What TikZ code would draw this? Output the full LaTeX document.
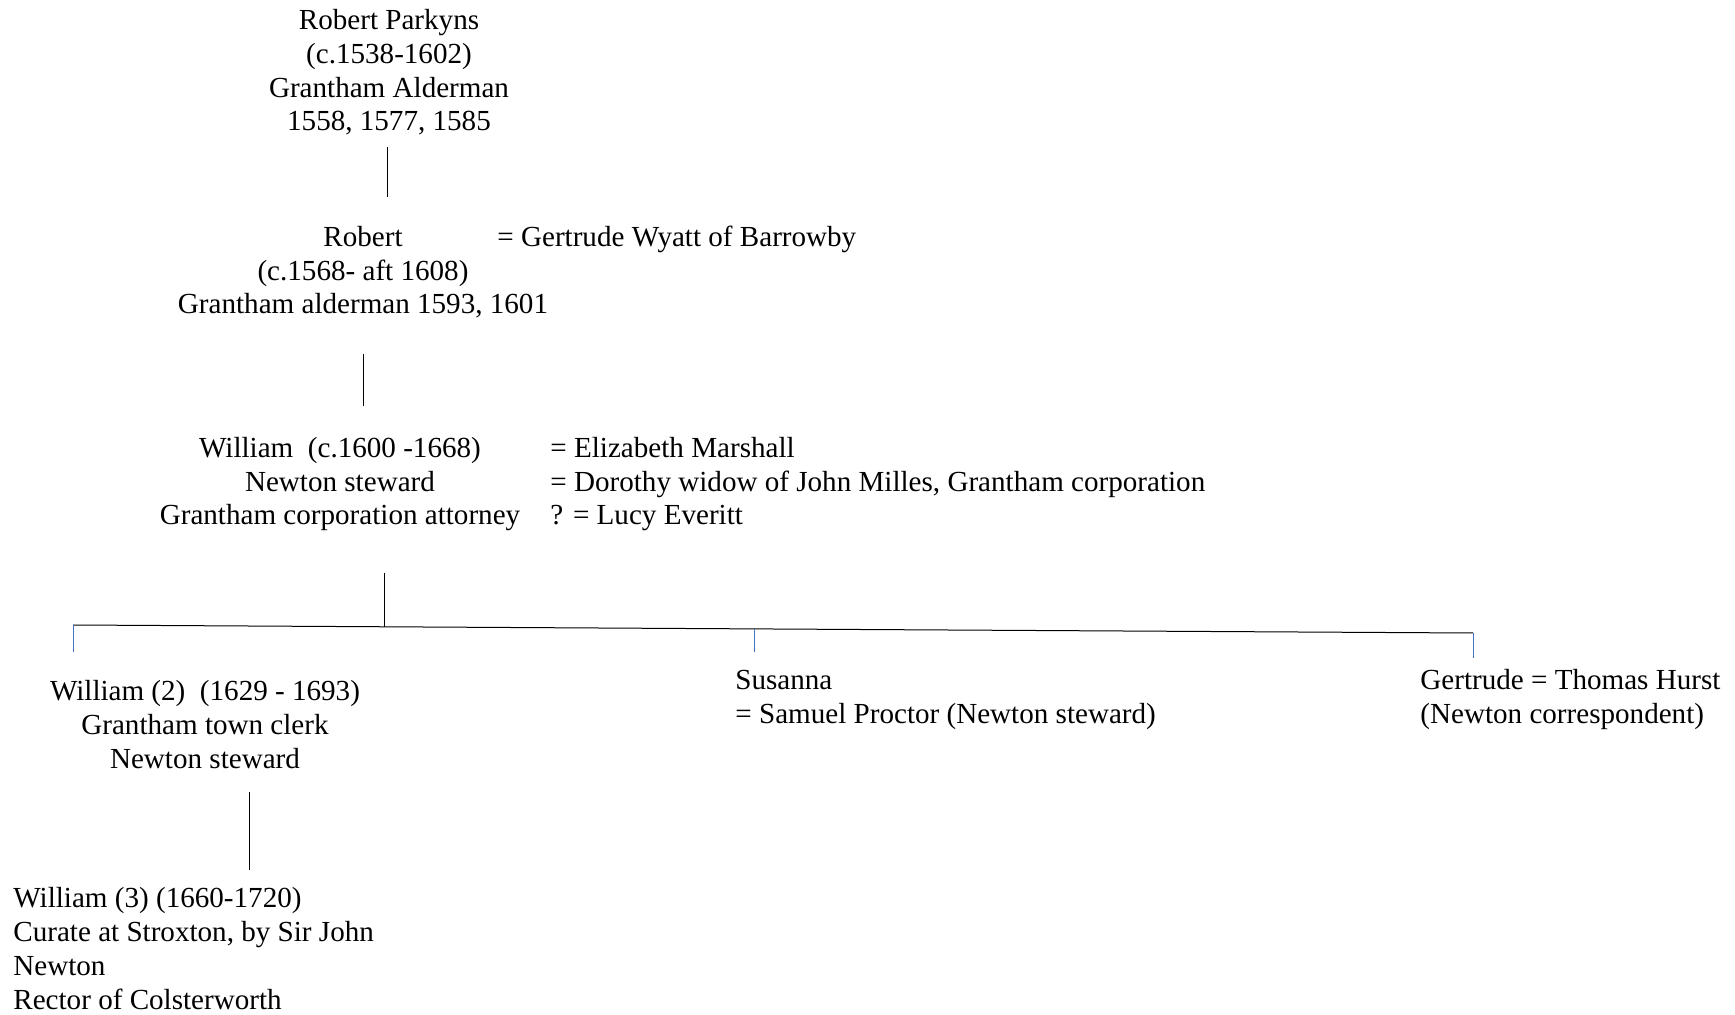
\documentclass[tikz,border=0pt]{standalone}
\usepackage{fontspec}
\setmainfont{Liberation Serif}
\usepackage{tikz}
\usetikzlibrary{positioning}

\definecolor{tickblue}{RGB}{68,114,196}
\tikzset{
  person/.style={inner sep=0pt, anchor=base, align=center, font=\fontsize{14.55pt}{16.9pt}\selectfont},
  spouse/.style={inner sep=0pt, anchor=base west, align=left, font=\fontsize{14.55pt}{16.9pt}\selectfont},
  line/.style={draw=black, line width=0.5pt},
  tick/.style={draw=tickblue, line width=0.5pt}
}

\begin{document}
\begin{tikzpicture}[x=0.5pt, y=-0.5pt]
\useasboundingbox (0,0) rectangle (1735,1015);
% people (placed by the baseline of their last line)
\node[person] (parkyns) at (389,131) {Robert Parkyns\\(c.1538-1602)\\Grantham Alderman\\1558, 1577, 1585};
\node[person] (robert) at (363,314) {Robert\\(c.1568- aft 1608)\\Grantham alderman 1593, 1601};
\node[spouse] (wyatt) at (497,247) {= Gertrude Wyatt of Barrowby};
\node[person] (william) at (340,525) {William\ \ (c.1600 -1668)\\Newton steward\\Grantham corporation attorney};
\node[spouse] (wives) at (550,525) {= Elizabeth Marshall\\= Dorothy widow of John Milles, Grantham corporation\\? = Lucy Everitt};
\node[person] (william2) at (205,768) {William (2)\ \ (1629 - 1693)\\Grantham town clerk\\Newton steward};
\node[spouse] (susanna) at (735,723) {Susanna\\= Samuel Proctor (Newton steward)};
\node[spouse] (gertrude) at (1420,723) {Gertrude = Thomas Hurst\\(Newton correspondent)};
\node[spouse] (william3) at (13,1009) {William (3) (1660-1720)\\Curate at Stroxton, by Sir John\\Newton\\Rector of Colsterworth};
% line ends
\coordinate (a1) at (387,147);  \coordinate (a2) at (387,197);
\coordinate (b1) at (363,354);  \coordinate (b2) at (363,406);
\coordinate (c1) at (384,573);  \coordinate (c2) at (384,627);
\coordinate (barL) at (73,625); \coordinate (barR) at (1473,633);
\coordinate (sL) at (754,629);
\coordinate (d1) at (249,792);  \coordinate (d2) at (249,870);
% descent
\draw[line] (a1) -- (a2);
\draw[line] (b1) -- (b2);
\draw[line] (c1) -- (c2);
\draw[line] (barL) -- (barR);
\draw[tick] (barL) -- (73,652);
\draw[tick] (sL) -- (754,652);
\draw[tick] (barR) -- (1473,658);
\draw[line] (d1) -- (d2);
\end{tikzpicture}
\end{document}
